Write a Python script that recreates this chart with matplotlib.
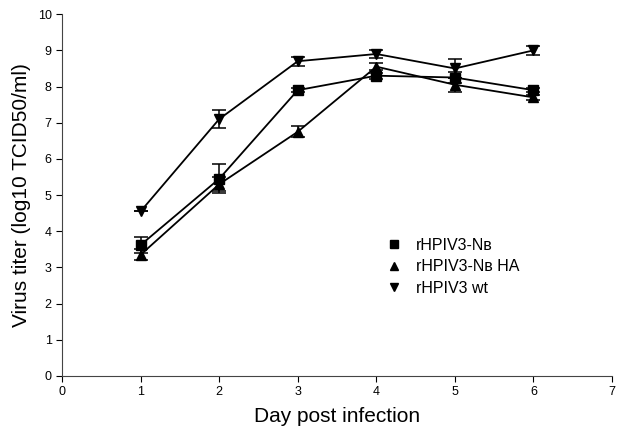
import numpy as np
import matplotlib
matplotlib.use("Agg")
from matplotlib import pyplot as plt
from matplotlib.lines import Line2D

plt.rcParams['font.family'] = ['Liberation Sans', 'DejaVu Sans']

days = [1, 2, 3, 4, 5, 6]
nb = [3.62, 5.45, 7.9, 8.3, 8.25, 7.9]
nb_err = [0.22, 0.4, 0.06, 0.08, 0.15, 0.06]
nb_ha = [3.35, 5.3, 6.75, 8.55, 8.05, 7.7]
nb_ha_err = [0.15, 0.2, 0.15, 0.1, 0.2, 0.06]
wt = [4.55, 7.1, 8.7, 8.9, 8.5, 9.0]
wt_err = [0.0, 0.25, 0.12, 0.1, 0.25, 0.12]

fig = plt.figure(figsize=(6.17, 4.30), dpi=100)
ax = fig.add_axes([0.1005, 0.1256, 0.8915, 0.8414])

series = [(nb, nb_err, 's', 'rHPIV3-N\u0299'),
          (nb_ha, nb_ha_err, '^', 'rHPIV3-N\u0299 HA'),
          (wt, wt_err, 'v', 'rHPIV3 wt')]
handles = []
for y, e, m, lab in series:
    ax.errorbar(days, y, yerr=e, color='black', marker=m, markersize=7,
                lw=1.3, capsize=5, elinewidth=1.1, capthick=1.1)
    handles.append(Line2D([], [], color='black', marker=m, markersize=5.5,
                          linestyle='none', label=lab))

ax.set_xlim(0, 7)
ax.set_ylim(0, 10)
ax.set_xticks(range(0, 8))
ax.set_yticks(range(0, 11))
ax.tick_params(labelsize=9, length=4, direction='out')
for s in ['top', 'right']:
    ax.spines[s].set_visible(False)
ax.spines['left'].set_color('#444444')
ax.spines['bottom'].set_color('#444444')
ax.set_xlabel('Day post infection', fontsize=15, labelpad=6)
ax.set_ylabel('Virus titer (log10 TCID50/ml)', fontsize=15, labelpad=5)

ax.legend(handles=handles, loc='upper left', bbox_to_anchor=(0.58, 0.40),
          frameon=False, fontsize=11.5, handlelength=0.8, handletextpad=1.0,
          labelspacing=0.42, borderaxespad=0)

fig.savefig('out.png', dpi=100)
